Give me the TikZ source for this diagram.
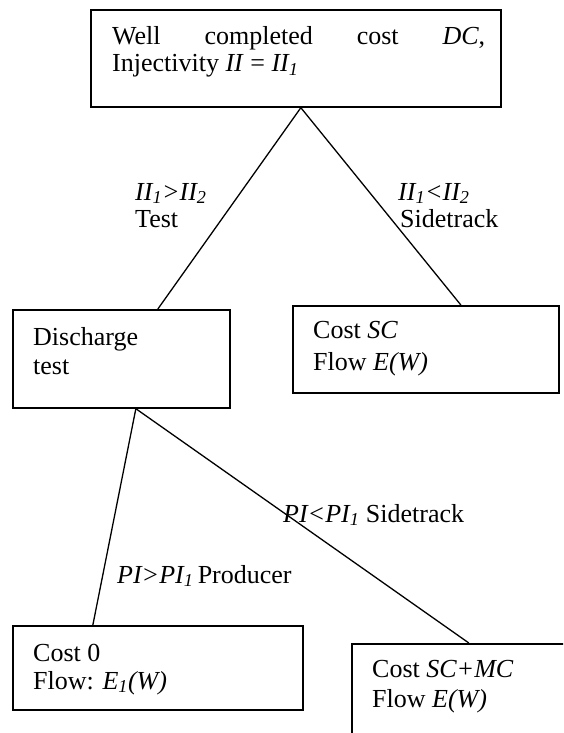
\documentclass[tikz,border=0pt]{standalone}
\usepackage{fontspec}
\setmainfont{Liberation Serif}
\begin{document}
\begin{tikzpicture}[x=1pt,y=-1pt,
  box/.style={draw,line width=1.7pt,anchor=north west,inner sep=0pt},
  txt/.style={anchor=base west,inner sep=0pt,font=\fontsize{26}{29}\selectfont},
  link/.style={line width=1.3pt}]
\clip (0,0) rectangle (563,733);
\fill[white] (0,0) rectangle (563,733);
% boxes
\node[box,minimum width=410pt,minimum height=97pt] (top) at (90,9) {};
\node[box,minimum width=217pt,minimum height=98pt] (dis) at (12,309) {};
\node[box,minimum width=266pt,minimum height=87pt] (sc) at (292,305) {};
\node[box,minimum width=290pt,minimum height=84pt] (cz) at (12,625) {};
\node[box,minimum width=250pt,minimum height=150pt] (scmc) at (351,643) {};
% box texts
\node[txt] (t1) at (112,45) {\hbox to 373pt{Well\hfil completed\hfil cost\hfil\textit{DC},}};
\node[txt] (t2) at (112,72) {Injectivity \textit{II} = \textit{II\textsubscript{1}}};
\node[txt] (d1) at (33,345) {Discharge};
\node[txt] (d2) at (33,374) {test};
\node[txt] (s1) at (313,338) {Cost \textit{SC}};
\node[txt] (s2) at (313,370) {Flow \textit{E(W)}};
\node[txt] (z1) at (33,661) {Cost 0};
\node[txt] (z2) at (33,689) {Flow: \textit{E\textsubscript{1}(W)}};
\node[txt] (m1) at (372,677) {Cost \textit{SC+MC}};
\node[txt] (m2) at (372,707) {Flow \textit{E(W)}};
% connectors
\draw[link] ([xshift=5pt]top.south) -- ([xshift=36.5pt]dis.north);
\draw[link] ([xshift=5pt]top.south) -- ([xshift=35pt]sc.north);
\draw[link] ([xshift=14.5pt]dis.south) -- ([xshift=-65pt]cz.north);
\draw[link] ([xshift=14.5pt]dis.south) -- ([xshift=-8pt]scmc.north);
% labels
\node[txt] (l1) at (135,200) {\textit{II\textsubscript{1}>II\textsubscript{2}}};
\node[txt] (l2) at (135,227) {Test};
\node[txt] (r1) at (398,200) {\textit{II\textsubscript{1}<II\textsubscript{2}}};
\node[txt] (r2) at (400,227) {Sidetrack};
\node[txt] (p1) at (283,522) {\textit{PI<PI\textsubscript{1}} Sidetrack};
\node[txt] (p2) at (117,583) {\textit{PI>PI\textsubscript{1}}\,Producer};
\end{tikzpicture}
\end{document}
